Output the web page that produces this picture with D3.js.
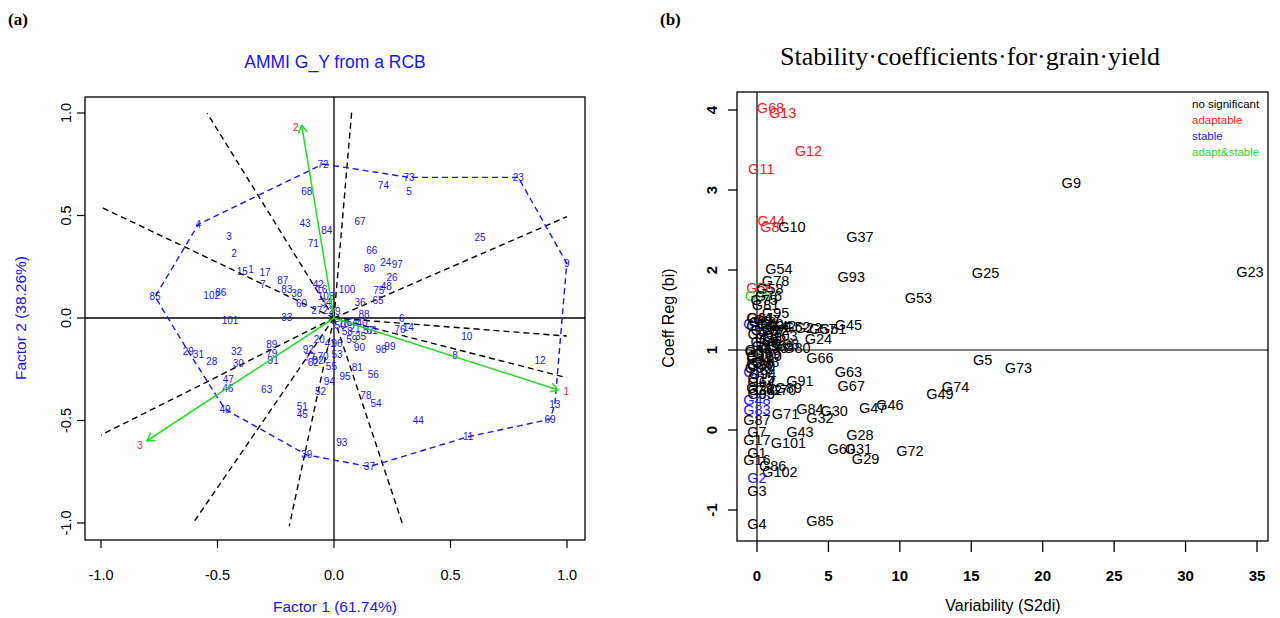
<!DOCTYPE html>
<html><head><meta charset="utf-8">
<script src="https://cdn.jsdelivr.net/npm/d3@7"></script>
<style>body{margin:0;background:#fff}svg{display:block}</style>
</head><body>
<svg id="c" width="1280" height="618"></svg>
<script>
// ---------- Panel (a): AMMI biplot ----------
const genoLabels = ["72","68","43","84","71","4","3","2","15","1","17","87","7","83","38","60","85","102","86","42","16","27","22","34","19","33","101","73","74","5","23","67","25","9","66","24","97","80","26","100","75","48","36","65","88","6","76","14","10","8","12","13","69","44","11","37","93","78","54","56","95","81","98","99","90","59","35","58","57","94","29","31","28","32","30","89","79","91","47","46","63","49","39","51","45","52","20","92","62","82","55","21","40","41","50","53","61","64","70","77","96","103","18"];
const genoF1 = [-0.047,-0.117,-0.124,-0.031,-0.089,-0.582,-0.451,-0.429,-0.394,-0.356,-0.296,-0.220,-0.306,-0.203,-0.160,-0.139,-0.768,-0.525,-0.486,-0.067,-0.053,-0.074,-0.024,-0.034,0.004,-0.203,-0.446,0.322,0.212,0.322,0.791,0.112,0.627,0.999,0.162,0.222,0.272,0.152,0.249,0.056,0.192,0.224,0.112,0.189,0.129,0.291,0.283,0.319,0.570,0.519,0.884,0.948,0.927,0.362,0.576,0.152,0.033,0.137,0.180,0.169,0.047,0.100,0.202,0.240,0.109,0.076,0.114,0.057,0.148,-0.020,-0.625,-0.582,-0.525,-0.418,-0.411,-0.267,-0.267,-0.261,-0.454,-0.456,-0.289,-0.468,-0.117,-0.136,-0.136,-0.058,-0.063,-0.110,-0.089,-0.069,-0.011,0.090,0.120,-0.017,0.026,0.013,0.163,0.077,-0.047,-0.103,0.013,-0.034,0.043];
const genoF2 = [0.751,0.616,0.462,0.426,0.361,0.457,0.400,0.316,0.226,0.239,0.221,0.185,0.161,0.137,0.120,0.072,0.104,0.112,0.123,0.161,0.137,0.039,0.039,0.075,0.031,0.003,-0.013,0.686,0.645,0.616,0.686,0.473,0.392,0.267,0.328,0.272,0.263,0.242,0.199,0.140,0.135,0.153,0.075,0.084,0.018,-0.003,-0.055,-0.045,-0.091,-0.185,-0.205,-0.421,-0.494,-0.501,-0.579,-0.725,-0.608,-0.378,-0.416,-0.274,-0.286,-0.242,-0.156,-0.137,-0.143,-0.107,-0.091,-0.067,-0.062,-0.311,-0.164,-0.177,-0.210,-0.164,-0.221,-0.127,-0.172,-0.208,-0.302,-0.346,-0.348,-0.445,-0.668,-0.433,-0.473,-0.360,-0.104,-0.154,-0.215,-0.205,-0.238,-0.049,-0.029,-0.122,-0.039,-0.180,-0.063,-0.024,-0.190,-0.195,-0.122,0.107,-0.029];
const hullOrder = ["72","73","23","9","13","69","11","37","39","49","29","85","4"];
const envLabels = ["1","2","3"];
const envF1 = [0.963,-0.139,-0.804];
const envF2 = [-0.351,0.941,-0.600];
const envLabelF1 = [0.997,-0.164,-0.833];
const envLabelF2 = [-0.359,0.930,-0.620];
const sectorEndF1 = [-0.545,-1.0,-1.0,-0.604,-0.192,0.297,0.999,0.999,0.999,0.076];
const sectorEndF2 = [1.0,0.541,-0.571,-0.999,-1.015,-1.015,-0.088,-0.291,0.494,1.006];
const ticksA = [-1,-0.5,0,0.5,1];
const tickLabelsA = ["-1.0","-0.5","0.0","0.5","1.0"];

// ---------- Panel (b): stability coefficients ----------
const gLabels = ["G68","G13","G12","G11","G44","G8","G10","G37","G9","G54","G78","G93","G25","G23","G53","G56","G58","G96","G76","G81","G95","G6","G19","G34","G52","G22","G57","G51","G45","G24","G80","G66","G5","G73","G63","G67","G91","G74","G49","G46","G47","G84","G30","G32","G71","G87","G83","G48","G7","G43","G28","G17","G101","G60","G31","G29","G72","G1","G16","G86","G102","G2","G3","G4","G85","G15","G27","G20","G14","G18","G21","G26","G33","G35","G36","G38","G39","G40","G41","G42","G50","G55","G59","G61","G62","G64","G65","G69","G70","G75","G77","G79","G82","G88","G89","G90","G92","G94","G97","G98","G99","G100","G103"];
const gS2di = [0.95,1.8,3.6,0.3,1.0,0.9,2.45,7.2,22.0,1.54,1.3,6.6,16.0,34.5,11.3,0.2,0.9,0.1,0.8,0.6,1.3,0.0,0.0,1.5,2.8,3.6,4.6,5.3,6.4,4.3,2.8,4.4,15.8,18.3,6.4,6.6,3.0,13.9,12.8,9.3,8.1,3.7,5.4,4.4,2.0,0.0,0.0,0.0,0.0,3.0,7.2,0.0,2.2,5.9,7.1,7.6,10.7,0.0,0.0,1.1,1.6,0.0,0.0,0.0,4.4,0.3,0.0,0.2,0.2,0.5,0.3,0.8,0.3,0.6,1.2,0.4,0.1,0.9,0.2,1.8,0.3,0.1,0.7,0.2,0.8,0.3,0.5,1.6,1.8,0.5,1.0,0.2,1.1,0.6,2.2,0.1,1.3,0.4,0.7,2.0,0.3,0.5,1.6];
const gBi = [4.03,3.96,3.49,3.26,2.61,2.54,2.54,2.41,3.09,2.01,1.86,1.91,1.96,1.98,1.65,1.77,1.76,1.67,1.68,1.56,1.46,1.40,1.33,1.30,1.29,1.27,1.26,1.26,1.31,1.14,1.03,0.90,0.88,0.78,0.73,0.55,0.61,0.54,0.45,0.31,0.28,0.26,0.24,0.15,0.20,0.13,0.25,0.38,-0.03,-0.03,-0.06,-0.12,-0.16,-0.24,-0.24,-0.36,-0.26,-0.29,-0.37,-0.45,-0.52,-0.60,-0.76,-1.17,-1.14,0.65,0.72,0.82,1.30,1.25,1.20,1.15,0.50,1.05,1.02,1.35,0.97,1.32,0.90,1.30,0.80,1.00,0.95,1.40,0.50,0.60,1.10,1.05,0.50,1.62,1.22,0.52,1.12,0.85,0.53,0.78,1.25,0.70,1.38,1.08,0.45,0.92,1.18];
const gClass = ["a","a","a","a","a","a","n","n","n","n","n","n","n","n","n","a","n","as","n","n","n","a","s","n","n","n","n","n","n","n","n","n","n","n","n","n","n","n","n","n","n","n","n","n","n","n","s","s","n","n","n","n","n","n","n","n","n","n","n","n","n","s","n","n","n","n","s","n","n","n","n","n","n","n","n","n","n","n","n","n","n","n","n","n","n","n","n","n","n","n","n","n","n","n","n","n","n","n","n","n","n","n","n"];
const legendLabels = ["no significant","adaptable","stable","adapt&stable"];
const legendClasses = ["n","a","s","as"];
const xTicksB = [0,5,10,15,20,25,30,35];
const yTicksB = [-1,0,1,2,3,4];

const classColor = {n:"#000000", a:"#ff1a1a", s:"#1a1aff", as:"#22e022"};
const BLUE = "#1515ff";
const svg = d3.select("#c");
const sans = "'Liberation Sans', Arial, sans-serif";
const serif = "'Liberation Serif', 'DejaVu Serif', serif";

// ===== Panel a =====
const xA = d3.scaleLinear().domain([-1,1]).range([101,567]);
const yA = d3.scaleLinear().domain([-1,1]).range([523,113]);
const boxA = {l:85,r:585,t:97,b:540};
const gA = svg.append("g");
gA.append("rect").attr("x",boxA.l).attr("y",boxA.t).attr("width",boxA.r-boxA.l).attr("height",boxA.b-boxA.t)
  .attr("fill","none").attr("stroke","#000").attr("stroke-width",1.3);
// axes through origin
gA.append("line").attr("x1",boxA.l).attr("x2",boxA.r).attr("y1",yA(0)).attr("y2",yA(0)).attr("stroke","#000").attr("stroke-width",1.3);
gA.append("line").attr("x1",xA(0)).attr("x2",xA(0)).attr("y1",boxA.t).attr("y2",boxA.b).attr("stroke","#000").attr("stroke-width",1.3);
// sector rays
gA.selectAll(".ray").data(sectorEndF1).join("line")
  .attr("x1",xA(0)).attr("y1",yA(0))
  .attr("x2",(d)=>xA(d)).attr("y2",(d,i)=>yA(sectorEndF2[i]))
  .attr("stroke","#000").attr("stroke-width",1.4).attr("stroke-dasharray","6,4");
// hull
const hullPts = hullOrder.map(l=>{const i=genoLabels.indexOf(l);return [xA(genoF1[i]),yA(genoF2[i])];});
gA.append("path").attr("d",d3.line()(hullPts)+"Z").attr("fill","none")
  .attr("stroke",BLUE).attr("stroke-width",1.4).attr("stroke-dasharray","6,4");
// genotype labels
gA.selectAll(".gl").data(genoLabels).join("text")
  .attr("x",(d,i)=>xA(genoF1[i])).attr("y",(d,i)=>yA(genoF2[i]))
  .attr("text-anchor","middle").attr("dominant-baseline","central")
  .attr("font-family",sans).attr("font-size",10).attr("fill",BLUE).text(d=>d);
// environment vectors
const GREEN = "#22dd22";
envLabels.forEach((l,i)=>{
  const x0=xA(0),y0=yA(0),x1=xA(envF1[i]),y1=yA(envF2[i]);
  gA.append("line").attr("x1",x0).attr("y1",y0).attr("x2",x1).attr("y2",y1).attr("stroke",GREEN).attr("stroke-width",1.5);
  const ang=Math.atan2(y1-y0,x1-x0), L=9, a=Math.PI/6;
  [ang+Math.PI-a, ang+Math.PI+a].forEach(t=>{
    gA.append("line").attr("x1",x1).attr("y1",y1).attr("x2",x1+L*Math.cos(t)).attr("y2",y1+L*Math.sin(t)).attr("stroke",GREEN).attr("stroke-width",1.5);
  });
  gA.append("text").attr("x",xA(envLabelF1[i])).attr("y",yA(envLabelF2[i]))
    .attr("text-anchor","middle").attr("dominant-baseline","central")
    .attr("font-family",sans).attr("font-size",10).attr("fill","#ff1a1a").text(l);
});
// ticks a
gA.selectAll(".xt").data(ticksA).join("line").attr("x1",d=>xA(d)).attr("x2",d=>xA(d)).attr("y1",boxA.b).attr("y2",boxA.b+8).attr("stroke","#000").attr("stroke-width",1.2);
gA.selectAll(".xtl").data(ticksA).join("text").attr("x",d=>xA(d)).attr("y",575).attr("text-anchor","middle").attr("dominant-baseline","central")
  .attr("font-family",sans).attr("font-size",14.5).text((d,i)=>tickLabelsA[i]);
gA.selectAll(".yt").data(ticksA).join("line").attr("y1",d=>yA(d)).attr("y2",d=>yA(d)).attr("x1",boxA.l).attr("x2",boxA.l-8).attr("stroke","#000").attr("stroke-width",1.2);
gA.selectAll(".ytl").data(ticksA).join("text").attr("transform",d=>`translate(66,${yA(d)}) rotate(-90)`).attr("text-anchor","middle").attr("dominant-baseline","central")
  .attr("font-family",sans).attr("font-size",14.5).text((d,i)=>tickLabelsA[i]);
// titles a
svg.append("text").attr("x",335).attr("y",62).attr("text-anchor","middle").attr("dominant-baseline","central")
  .attr("font-family",sans).attr("font-size",17.5).attr("fill",BLUE).text("AMMI G_Y from a RCB");
svg.append("text").attr("x",335).attr("y",606).attr("text-anchor","middle").attr("dominant-baseline","central")
  .attr("font-family",sans).attr("font-size",15.5).attr("fill",BLUE).text("Factor 1 (61.74%)");
svg.append("text").attr("transform","translate(20,318) rotate(-90)").attr("text-anchor","middle").attr("dominant-baseline","central")
  .attr("font-family",sans).attr("font-size",15.5).attr("fill",BLUE).text("Factor 2 (38.26%)");
svg.append("text").attr("x",8).attr("y",19).attr("dominant-baseline","central").attr("font-family",serif).attr("font-weight","bold").attr("font-size",17).text("(a)");

// ===== Panel b =====
const xB = d3.scaleLinear().domain([0,35]).range([757,1257]);
const yB = d3.scaleLinear().domain([-1,4]).range([510,110]);
const boxB = {l:737,r:1268,t:92,b:541};
const gB = svg.append("g");
gB.append("rect").attr("x",boxB.l).attr("y",boxB.t).attr("width",boxB.r-boxB.l).attr("height",boxB.b-boxB.t)
  .attr("fill","none").attr("stroke","#000").attr("stroke-width",1.3);
gB.append("line").attr("x1",xB(0)).attr("x2",xB(0)).attr("y1",boxB.t).attr("y2",boxB.b).attr("stroke","#000").attr("stroke-width",1.2);
gB.append("line").attr("x1",boxB.l).attr("x2",boxB.r).attr("y1",yB(1)).attr("y2",yB(1)).attr("stroke","#000").attr("stroke-width",1.2);
gB.selectAll(".pl").data(gLabels).join("text")
  .attr("x",(d,i)=>xB(gS2di[i])).attr("y",(d,i)=>yB(gBi[i]))
  .attr("text-anchor","middle").attr("dominant-baseline","central")
  .attr("font-family",sans).attr("font-size",14.5).attr("fill",(d,i)=>classColor[gClass[i]]).text(d=>d);
// legend
gB.selectAll(".lg").data(legendLabels).join("text")
  .attr("x",1192).attr("y",(d,i)=>104+i*16).attr("dominant-baseline","central")
  .attr("font-family",sans).attr("font-size",11.5).attr("fill",(d,i)=>classColor[legendClasses[i]]).text(d=>d);
// ticks b
gB.selectAll(".xt").data(xTicksB).join("line").attr("x1",d=>xB(d)).attr("x2",d=>xB(d)).attr("y1",boxB.b).attr("y2",boxB.b+11).attr("stroke","#000").attr("stroke-width",1.3);
gB.selectAll(".xtl").data(xTicksB).join("text").attr("x",d=>xB(d)).attr("y",575).attr("text-anchor","middle").attr("dominant-baseline","central")
  .attr("font-family",sans).attr("font-size",15).attr("font-weight","bold").text(d=>d);
gB.selectAll(".yt").data(yTicksB).join("line").attr("y1",d=>yB(d)).attr("y2",d=>yB(d)).attr("x1",boxB.l).attr("x2",boxB.l-9).attr("stroke","#000").attr("stroke-width",1.3);
gB.selectAll(".ytl").data(yTicksB).join("text").attr("transform",d=>`translate(711,${yB(d)}) rotate(-90)`).attr("text-anchor","middle").attr("dominant-baseline","central")
  .attr("font-family",sans).attr("font-size",15).attr("font-weight","bold").text(d=>d);
svg.append("text").attr("x",1003).attr("y",605).attr("text-anchor","middle").attr("dominant-baseline","central")
  .attr("font-family",sans).attr("font-size",16).text("Variability (S2di)");
svg.append("text").attr("transform","translate(668,318) rotate(-90)").attr("text-anchor","middle").attr("dominant-baseline","central")
  .attr("font-family",sans).attr("font-size",16).text("Coeff Reg (bi)");
svg.append("text").attr("x",970).attr("y",56).attr("text-anchor","middle").attr("dominant-baseline","central")
  .attr("font-family",serif).attr("font-size",25).attr("textLength",380).attr("lengthAdjust","spacingAndGlyphs")
  .text("Stability·coefficients·for·grain·yield");
svg.append("text").attr("x",660).attr("y",19).attr("dominant-baseline","central").attr("font-family",serif).attr("font-weight","bold").attr("font-size",17).text("(b)");
</script>
</body></html>
